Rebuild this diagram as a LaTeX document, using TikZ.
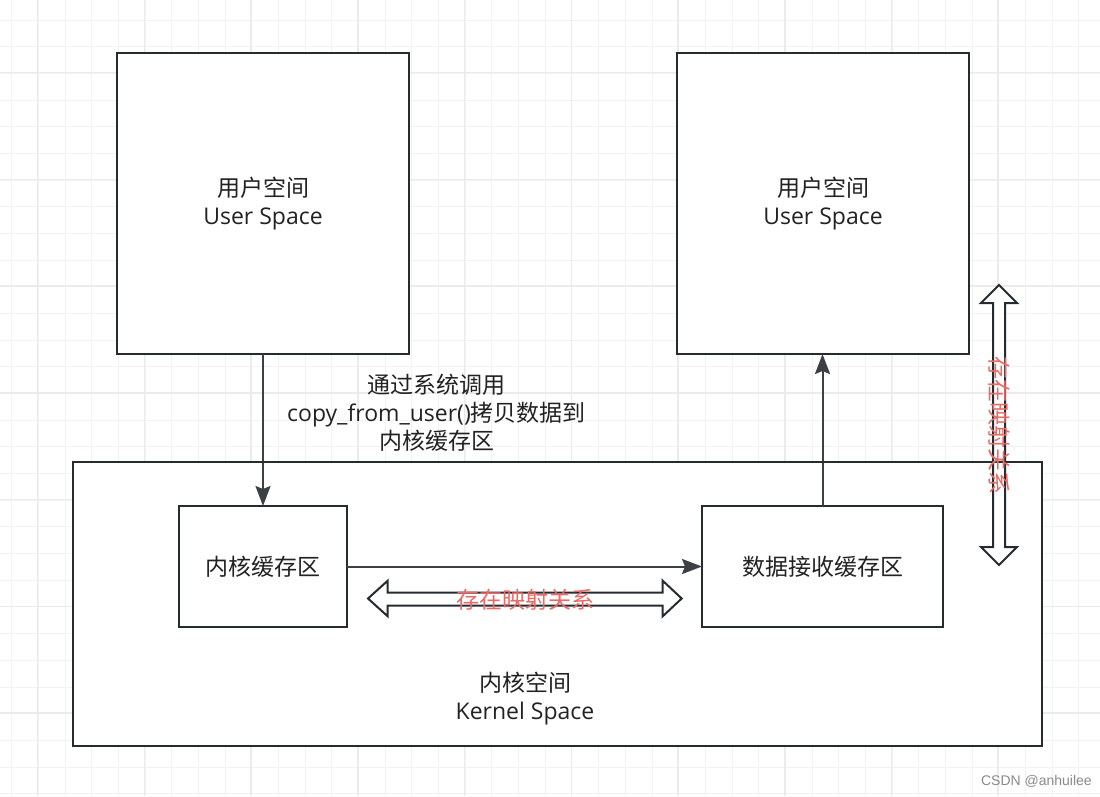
\documentclass[tikz,border=0pt]{standalone}
\usepackage{fontspec}
\setmainfont{Open Sans}
\newfontfamily\cjk{Noto Sans CJK SC}
\newfontfamily\wmfont{Liberation Sans}
\usetikzlibrary{arrows.meta}
\definecolor{gridminor}{HTML}{F2F2F2}
\definecolor{gridmajor}{HTML}{EBEBEB}
\definecolor{boxline}{HTML}{262B30}
\definecolor{txt}{HTML}{222222}
\definecolor{redtxt}{HTML}{EA6B66}
\definecolor{wm}{HTML}{8A8A8A}
\tikzset{
  box/.style={draw=boxline, line width=2pt, fill=white, inner sep=0pt, outer sep=0pt, align=center, text=txt,
    font=\fontsize{23}{28}\selectfont},
  conn/.style={draw=boxline!90, line width=2pt, -{Stealth[length=20pt,width=15pt,inset=3pt]}},
  lbl/.style={inner sep=0pt, align=center, text=txt, font=\fontsize{23}{28}\selectfont},
  redlbl/.style={inner sep=0pt, text=redtxt, font=\fontsize{23}{28}\selectfont\cjk},
  dblarrow/.style={draw=boxline, line width=2pt, fill=white, line join=miter},
  gmin/.style={draw=gridminor, line width=1pt},
  gmaj/.style={draw=gridmajor, line width=1.5pt},
}
\begin{document}
\begin{tikzpicture}[x=1pt,y=-1pt]
\useasboundingbox[fill=white] (0,0) rectangle (1100,796);
% grid
\foreach \i in {0,...,41} {
  \draw[gmin] ({11.7+26.68*\i},0) -- ++(0,796);
}
\foreach \i in {0,...,29} {
  \draw[gmin] (0,{20+26.68*\i}) -- ++(1100,0);
}
\foreach \i in {0,...,10} {
  \draw[gmaj] ({37.7+106.72*\i},0) -- ++(0,796);
}
\foreach \i in {0,...,7} {
  \draw[gmaj] (0,{72.7+106.72*\i}) -- ++(1100,0);
}
% boxes
\node[box, minimum width=292pt, minimum height=301pt] (ub1) at (263,203.5) {{\cjk 用户空间}\\User Space};
\node[box, minimum width=292pt, minimum height=301pt] (ub2) at (823,203.5) {{\cjk 用户空间}\\User Space};
\node[box, minimum width=969pt, minimum height=284pt] (kern) at (557.5,604) {};
\node[lbl] (kernlbl) at (525,699) {{\cjk 内核空间}\\Kernel Space};
\node[box, minimum width=168pt, minimum height=121pt] (kb) at (263,566.5) {\cjk 内核缓存区};
\node[box, minimum width=241pt, minimum height=121pt] (db) at (822.5,566.5) {\cjk 数据接收缓存区};
% connectors
\draw[conn] (ub1.south) -- (kb.north);
\draw[conn] (kb.east) -- (db.west);
\draw[conn] (db.north) -- (db.north |- ub2.south);
\node[lbl] (calllbl) at (436.5,413) {{\cjk 通过系统调用}\\copy\_from\_user(){\cjk 拷贝数据到}\\{\cjk 内核缓存区}};
% horizontal double arrow
\draw[dblarrow] (368,598.5) -- (387.7,580.7) -- (387.7,592.7) -- (662.7,592.7) -- (662.7,580.7) -- (681.7,598.5)
  -- (662.7,616.3) -- (662.7,605.7) -- (387.7,605.7) -- (387.7,616.3) -- cycle;
\node[redlbl] (maph) at (525,600) {存在映射关系};
% vertical double arrow
\draw[dblarrow] (999,285) -- (1017,303) -- (1005,303) -- (1005,547) -- (1017,547) -- (999,565)
  -- (981,547) -- (993,547) -- (993,303) -- (981,303) -- cycle;
\draw[draw=boxline, line width=2pt] (kern.north west) -- (kern.north east);
\node[redlbl, rotate=-90] (mapv) at (999,425) {存在映射关系};
% watermark
\node[inner sep=0pt, anchor=east, text=wm, font=\fontsize{14}{16}\selectfont\wmfont] (wmk) at (1092,781) {CSDN @anhuilee};
\end{tikzpicture}
\end{document}
